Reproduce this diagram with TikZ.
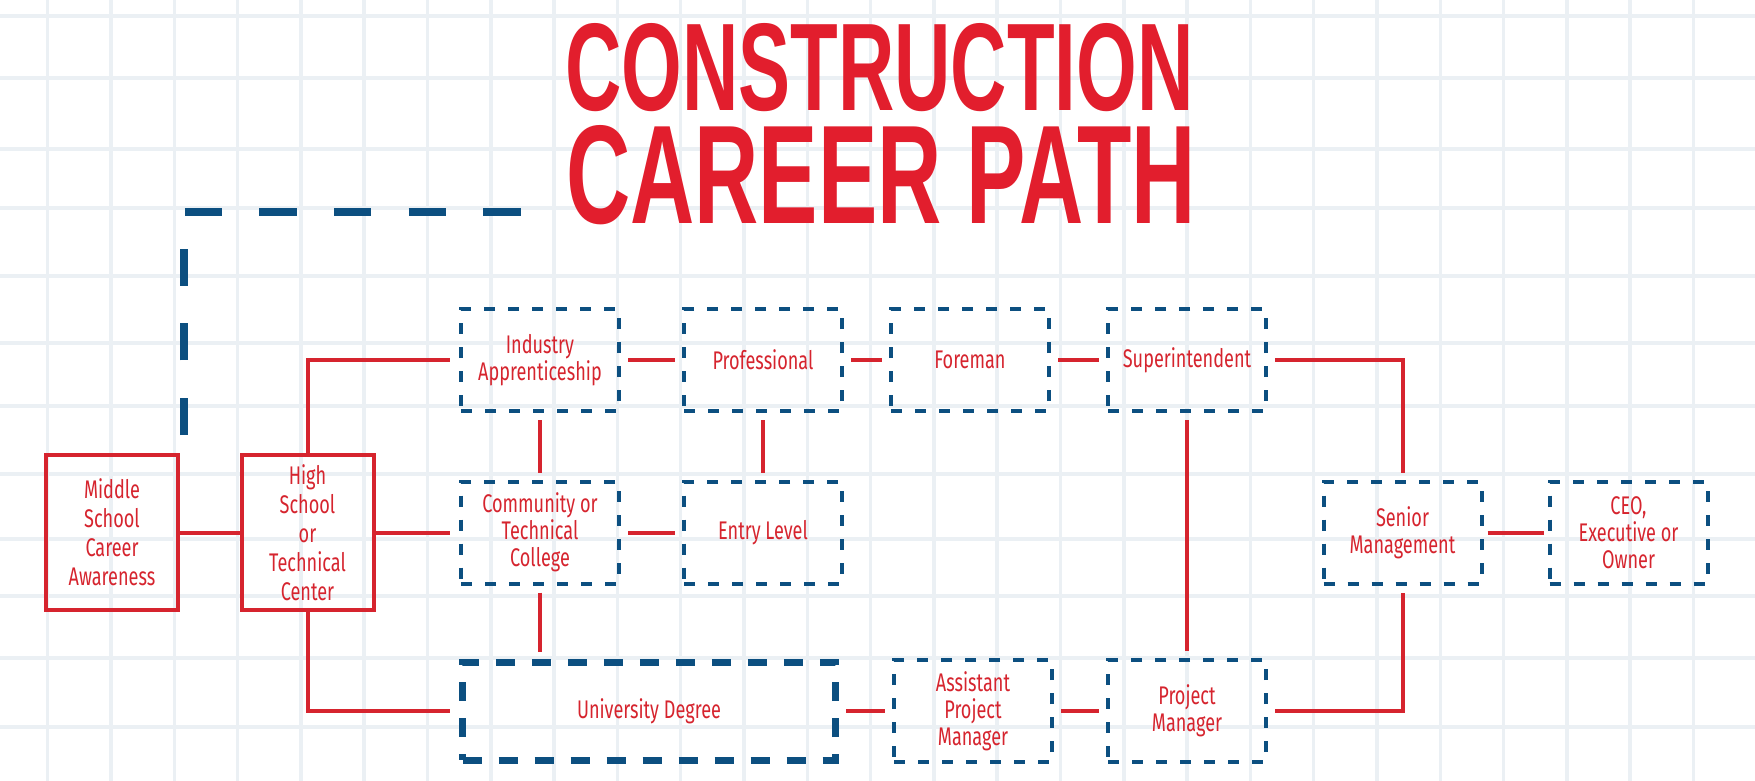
\documentclass[tikz,border=0pt]{standalone}
\usepackage{graphicx}
\usepackage{fontspec}
\setmainfont{Fira Sans}
\newfontfamily\boxfont[FakeStretch=0.71]{Fira Sans}
\newfontfamily\titlefont{Liberation Sans}
\definecolor{cred}{RGB}{214,36,46}
\definecolor{tred}{RGB}{226,30,45}
\definecolor{cblue}{RGB}{12,79,128}
\definecolor{gridc}{RGB}{235,240,244}
\tikzset{
  gridline/.style={draw=gridc, line width=3.5pt},
  boxtext/.style={text=cred, align=center, font={\boxfont\fontsize{25.5pt}{27pt}\selectfont}},
  sbox/.style={boxtext, draw=cred, line width=4pt, inner sep=0pt, minimum width=132pt, minimum height=155pt, font={\boxfont\fontsize{25.5pt}{29pt}\selectfont}},
  dbox/.style={boxtext, draw=cblue, line width=4pt, dash pattern=on 11pt off 13pt, inner sep=0pt, minimum width=158pt, minimum height=102pt},
  ubox/.style={dbox, line width=7pt, dash pattern=on 19pt off 17pt, minimum width=373pt, minimum height=98pt},
  conn/.style={draw=cred, line width=4pt},
  gap/.style={shorten <=7pt, shorten >=7pt},
  titletext/.style={anchor=north west, inner sep=0pt, text=tred}
}
\begin{document}
\begin{tikzpicture}[x=1pt,y=-1pt]
\useasboundingbox (0,0) rectangle (1755,781);
\fill[white] (0,0) rectangle (1755,781);
% grid
\foreach \k in {0,...,27} \draw[gridline] ({47.7+63.3*\k},0) -- ({47.7+63.3*\k},781);
\foreach \yy in {16,78,149,208,276,343,406,474,539,596,658,727} \draw[gridline] (0,\yy) -- (1755,\yy);
% title
\node[titletext] (t1) at (565,23) {\resizebox{628pt}{87pt}{\raisebox{0pt}[\height][0pt]{\titlefont\bfseries CONSTRUCTION}}};
\node[titletext] (t2) at (566,125) {\resizebox{629pt}{98pt}{\raisebox{0pt}[\height][0pt]{\titlefont\bfseries CAREER PATH}}};
% dashed guide line
\coordinate (dA) at (184,435);
\coordinate (dB) at (184,212);
\coordinate (dC) at (524,212);
\draw[cblue, line width=7.5pt, dash pattern=on 37.3pt off 37.3pt] (dA) -- (dB) -- (dC);
% boxes
\node[sbox] (ms) at (112,532.5) {Middle\\School\\Career\\Awareness};
\node[sbox] (hs) at (307.5,532.5) {High\\School\\or\\Technical\\Center};
\node[dbox] (ind) at (540,360) {Industry\\Apprenticeship};
\node[dbox] (com) at (540,532.5) {Community or\\Technical\\College};
\node[ubox] (uni) at (649,711) {University Degree};
\node[dbox] (prof) at (763,360) {Professional};
\node[dbox] (entry) at (763,532.5) {Entry Level};
\node[dbox] (fore) at (970,360) {Foreman};
\node[dbox] (sup) at (1187,360) {Superintendent};
\node[dbox] (apm) at (973,711) {Assistant\\Project\\Manager};
\node[dbox] (pm) at (1187,711) {Project\\Manager};
\node[dbox] (sen) at (1402.5,532.5) {Senior\\Management};
\node[dbox] (ceo) at (1628.5,532.5) {CEO,\\Executive or\\Owner};
% connectors
\draw[conn] (ms.east) -- (hs.west);
\draw[conn, shorten >=9pt] (hs.north) |- (ind.west);
\draw[conn, shorten >=9pt] (hs.east) -- (com.west);
\draw[conn, shorten >=9pt] (hs.south) |- (uni.west);
\draw[conn, gap] (ind.south) -- (com.north);
\draw[conn, gap] (com.south) -- (com.south |- uni.north);
\draw[conn, gap] (ind.east) -- (prof.west);
\draw[conn, gap] (com.east) -- (entry.west);
\draw[conn, gap] (prof.south) -- (entry.north);
\draw[conn, gap] (prof.east) -- (fore.west);
\draw[conn, gap] (fore.east) -- (sup.west);
\draw[conn, gap] (sup.south) -- (pm.north);
\draw[conn, gap] (uni.east) -- (apm.west);
\draw[conn, gap] (apm.east) -- (pm.west);
\draw[conn, gap] (sup.east) -| (sen.north);
\draw[conn, gap] (pm.east) -| (sen.south);
\draw[conn, shorten <=4pt, shorten >=4pt] (sen.east) -- (ceo.west);
\end{tikzpicture}
\end{document}
